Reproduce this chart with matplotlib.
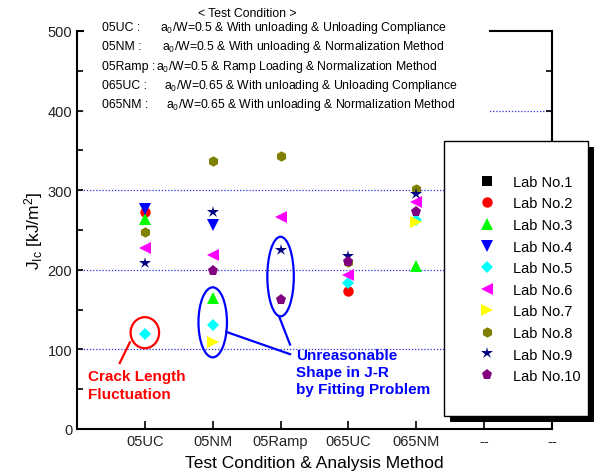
import matplotlib
matplotlib.use("Agg")
import matplotlib.pyplot as plt
import numpy as np
from matplotlib.patches import Ellipse, Rectangle

plt.rcParams["font.family"] = ["Liberation Sans", "DejaVu Sans"]

conditions = ["05UC", "05NM", "05Ramp", "065UC", "065NM"]
xticklabels = conditions + ["--", "--"]
nan = np.nan

labs = ["Lab No.%d" % i for i in range(1, 11)]
lab1 = [nan, nan, nan, nan, nan]
lab2 = [273, nan, nan, 173, nan]
lab3 = [264, 165, nan, nan, 205]
lab4 = [276, 256, nan, nan, nan]
lab5 = [119, 131, nan, 183, 263]
lab6 = [228, 218, 266, 193, 285]
lab7 = [nan, 109, nan, nan, 260]
lab8 = [247, 337, 343, 210, 302]
lab9 = [209, 272, 225, 217, 295]
lab10 = [nan, 198, 162, 210, 272]
lab_values = [lab1, lab2, lab3, lab4, lab5, lab6, lab7, lab8, lab9, lab10]

markers = ["s", "o", "^", "v", "D", "<", ">", "h", "*", "p"]
colors = ["#000000", "#ff0000", "#00ff00", "#0000ff", "#00ffff",
          "#ff00ff", "#ffff00", "#808000", "#000080", "#800080"]
sizes = [7, 7.5, 8, 8, 6, 8, 8, 7.5, 9, 8]

cond_labels = ["05UC :", "05NM :", "05Ramp :", "065UC :", "065NM :"]
cond_desc = [r"$\mathregular{a_0}$/W=0.5 & With unloading & Unloading Compliance",
             r"$\mathregular{a_0}$/W=0.5 & With unloading & Normalization Method",
             r"$\mathregular{a_0}$/W=0.5 & Ramp Loading & Normalization Method",
             r"$\mathregular{a_0}$/W=0.65 & With unloading & Unloading Compliance",
             r"$\mathregular{a_0}$/W=0.65 & With unloading & Normalization Method"]
desc_x = [160, 162, 156, 164, 166]

W, H = 596, 477
fig = plt.figure(figsize=(W / 100, H / 100), dpi=100)
ax = fig.add_axes([77 / W, 1 - 430 / H, (552 - 77) / W, (430 - 32) / H])

x = np.arange(1, len(conditions) + 1)
handles = []
for lab, vals, m, c, s in zip(labs, lab_values, markers, colors, sizes):
    h, = ax.plot(x, vals, linestyle="none", marker=m, color=c, markersize=s,
                 markeredgewidth=0, label=lab, zorder=3)
    handles.append(h)

for yv in [100, 200, 300, 400]:
    ax.axhline(yv, color="#3030e0", linestyle=(0, (1, 1.5)), linewidth=0.9, zorder=1)

ax.set_xlim(0, 7)
ax.set_ylim(0, 500)
ax.set_xticks(range(1, 8))
ax.set_xticklabels(xticklabels, fontsize=10.5, color="#222222")
ax.set_yticks(range(0, 501, 100))
ax.set_yticks(range(50, 500, 100), minor=True)
ax.tick_params(axis="y", which="both", direction="in", right=True, labelsize=10.5,
               length=4, width=1.2, labelcolor="#222222")
ax.tick_params(axis="x", direction="in", length=6, width=1.2, top=False)
for sp in ax.spines.values():
    sp.set_linewidth(1.5)
ax.set_ylabel(r"$\mathregular{J_{Ic}}$ [kJ/m$\mathregular{^2}$]", fontsize=12.5, labelpad=2)
ax.set_xlabel("Test Condition & Analysis Method", fontsize=12.5, labelpad=5)

# annotation: crack length fluctuation
ax.add_patch(Ellipse((1, lab5[0] + 2), 0.42, 39, fill=False, edgecolor="red", linewidth=1.6, zorder=2))
ax.plot([0.78, 0.63], [109, 83], color="red", linewidth=1.6)
ax.text(0.16, 75, "Crack Length\nFluctuation", color="red", fontsize=11, fontweight="bold",
        va="top", ha="left", linespacing=1.3)

# annotation: unreasonable J-R shape
ax.add_patch(Ellipse((2, (lab3[1] + lab7[1]) / 2 - 3), 0.42, 88, fill=False, edgecolor="blue", linewidth=1.6, zorder=2))
ax.add_patch(Ellipse((3, (lab9[2] + lab10[2]) / 2 - 2), 0.39, 100, fill=False, edgecolor="blue", linewidth=1.6, zorder=2))
ax.plot([2.2, 3.14], [122, 94], color="blue", linewidth=1.6)
ax.plot([2.98, 3.14], [141, 106], color="blue", linewidth=1.6)
ax.text(3.23, 102, "Unreasonable\nShape in J-R\nby Fitting Problem", color="blue", fontsize=11,
        fontweight="bold", va="top", ha="left", linespacing=1.3)

# test condition box covering the top of the frame
ax.add_patch(Rectangle((84 / W, 1 - 116 / H), (489 - 84) / W, 116 / H, transform=fig.transFigure,
                       facecolor="white", edgecolor="none", clip_on=False, zorder=4))
fig.text(247 / W, 1 - 14 / H, "< Test Condition >", fontsize=8.8, ha="center", va="center", zorder=5)
for i, (lbl, desc, dx) in enumerate(zip(cond_labels, cond_desc, desc_x)):
    yy = 1 - (28 + 19.3 * i) / H
    fig.text(102 / W, yy, lbl, fontsize=8.8, ha="left", va="center", zorder=5)
    fig.text(dx / W, yy, desc, fontsize=8.8, ha="left", va="center", zorder=5)

# legend with black drop shadow
bx0, by0, bx1, by1 = 444, 142, 588, 417
fig.add_artist(Rectangle(((bx0 + 6) / W, 1 - (by1 + 6) / H), (bx1 - bx0) / W, (by1 - by0) / H,
                         transform=fig.transFigure, facecolor="black", edgecolor="none", zorder=3))
fig.add_artist(Rectangle((bx0 / W, 1 - by1 / H), (bx1 - bx0) / W, (by1 - by0) / H,
                         transform=fig.transFigure, facecolor="white", edgecolor="black",
                         linewidth=1.0, zorder=3.5))
leg = fig.legend(handles=handles, loc="center left", bbox_to_anchor=(459 / W, 1 - 280 / H),
                 frameon=False, fontsize=10.5, labelspacing=0.52, handletextpad=0.8,
                 handlelength=2.0, numpoints=1)
leg.set_zorder(5)

fig.savefig("out.png", dpi=100)
